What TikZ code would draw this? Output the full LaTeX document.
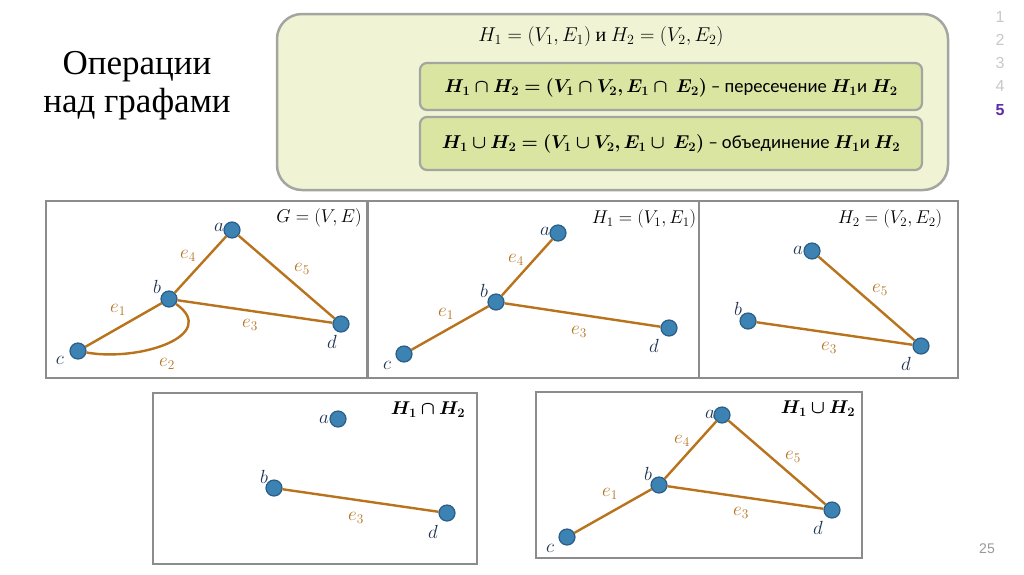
\RequirePackage{fix-cm}
\documentclass[tikz,border=0pt]{standalone}
\usepackage{amsmath,bm}
\usepackage{fontspec}
\setmainfont{Carlito}
\newfontfamily\titlefont{Liberation Serif}
\newfontfamily\numfont{Liberation Sans}
\definecolor{bigfill}{HTML}{F0F4D4}
\definecolor{innerfill}{HTML}{DAE5A2}
\definecolor{boxline}{HTML}{A3A5A0}
\definecolor{panelline}{HTML}{8C8C8C}
\definecolor{nodeblue}{HTML}{3C82B3}
\definecolor{nodeborder}{HTML}{2A5E86}
\definecolor{edgecol}{HTML}{B8731C}
\definecolor{edgelab}{HTML}{B5731E}
\definecolor{vlabcol}{HTML}{1F3552}
\definecolor{pagegray}{HTML}{C8C8C8}
\definecolor{pagepurple}{HTML}{5E2CA5}
\tikzset{
  vert/.style={circle, fill=nodeblue, draw=nodeborder, line width=1.2pt, minimum size=16pt, inner sep=0pt},
  edgeline/.style={draw=edgecol, line width=2.4pt},
  vlab/.style={text=vlabcol, inner sep=0pt, font=\fontsize{19}{21}\selectfont},
  elab/.style={text=edgelab, inner sep=0pt, font=\fontsize{19}{21}\selectfont},
  ptitle/.style={text=black, inner sep=0pt, font=\fontsize{18.5}{21}\selectfont},
  panelbox/.style={draw=panelline, line width=2pt},
  innerbox/.style={draw=boxline, fill=innerfill, line width=2.2pt, rounded corners=7pt},
  pagenum/.style={text=pagegray, inner sep=0pt, font=\numfont\fontsize{16}{18}\selectfont},
}
\begin{document}
\begin{tikzpicture}[x=1pt,y=-1pt]
\useasboundingbox (0,0) rectangle (1024,574);
\fill[white] (0,0) rectangle (1024,574);

% title
\node[align=center, inner sep=0pt, font=\titlefont\fontsize{35}{38}\selectfont] (title) at (137,86) {Операции\\над графами};

% top definition box
\draw[draw=boxline, fill=bigfill, line width=2.5pt, rounded corners=25pt] (277,14) rectangle (948,190);
\node[ptitle, font=\fontsize{20}{22}\selectfont] (deftext) at (601,36) {$H_1=(V_1,E_1)$ {\titlefont и} $H_2=(V_2,E_2)$};
\draw[innerbox] (420,63) rectangle (922,110);
\node[ptitle, font=\fontsize{18.6}{21}\selectfont] (inter) at (671,88) {$\bm{H_1\cap H_2=(V_1\cap V_2,E_1\cap\ E_2)}$ – пересечение $\bm{H_1}$и $\bm{H_2}$};
\draw[innerbox] (420,117) rectangle (922,170);
\node[ptitle, font=\fontsize{18.6}{21}\selectfont] (union) at (671,144) {$\bm{H_1\cup H_2=(V_1\cup V_2,E_1\cup\ E_2)}$ – объединение $\bm{H_1}$и $\bm{H_2}$};

% page numbers
\node[pagenum] (p1) at (1000,17) {1};
\node[pagenum] (p2) at (1000,40) {2};
\node[pagenum] (p3) at (1000,63) {3};
\node[pagenum] (p4) at (1000,86) {4};
\node[pagenum, text=pagepurple, font=\numfont\bfseries\fontsize{16}{18}\selectfont] (p5) at (1000,110) {5};
\node[pagenum, text=gray!80, font=\numfont\fontsize{14}{16}\selectfont] (pg) at (987,549) {25};

% ---------- panel G ----------
\draw[panelbox] (46,201) rectangle (367,378);
\node[ptitle] (tG) at (319,218) {$G=(V,E)$};
\node[vert] (ga) at (232,230) {};
\node[vert] (gb) at (169,299) {};
\node[vert] (gc) at (78,351) {};
\node[vert] (gd) at (341,324) {};
\draw[edgeline] (gb) -- (ga);
\draw[edgeline] (ga) -- (gd);
\draw[edgeline] (gc) -- (gb);
\draw[edgeline] (gb) -- (gd);
\draw[edgeline] (gc) .. controls (140,362) and (220,335) .. (gb);
\node[vlab] (gla) at (219,227) {$a$};
\node[vlab] (glb) at (157,287) {$b$};
\node[vlab] (glc) at (60,360) {$c$};
\node[vlab] (gld) at (332,342) {$d$};
\node[elab] (ge4) at (188,256) {$e_4$};
\node[elab] (ge5) at (302,269) {$e_5$};
\node[elab] (ge1) at (118,310) {$e_1$};
\node[elab] (ge3) at (250,325) {$e_3$};
\node[elab] (ge2) at (167,364) {$e_2$};

% ---------- panel H1 ----------
\draw[panelbox] (368,201) rectangle (699,378);
\node[ptitle] (tH1) at (644,219) {$H_1=(V_1,E_1)$};
\node[vert] (ha) at (558,233) {};
\node[vert] (hb) at (496,302) {};
\node[vert] (hc) at (404,354) {};
\node[vert] (hd) at (669,328) {};
\draw[edgeline] (hb) -- (ha);
\draw[edgeline] (hc) -- (hb);
\draw[edgeline] (hb) -- (hd);
\node[vlab] (hla) at (545,231) {$a$};
\node[vlab] (hlb) at (484,291) {$b$};
\node[vlab] (hlc) at (387,365) {$c$};
\node[vlab] (hld) at (654,346) {$d$};
\node[elab] (he4) at (516,260) {$e_4$};
\node[elab] (he1) at (446,314) {$e_1$};
\node[elab] (he3) at (579,332) {$e_3$};

% ---------- panel H2 ----------
\draw[panelbox] (699,201) rectangle (958,378);
\node[ptitle] (tH2) at (890,219) {$H_2=(V_2,E_2)$};
\node[vert] (ka) at (812,251) {};
\node[vert] (kb) at (748,321) {};
\node[vert] (kd) at (921,346) {};
\draw[edgeline] (ka) -- (kd);
\draw[edgeline] (kb) -- (kd);
\node[vlab] (kla) at (798,250) {$a$};
\node[vlab] (klb) at (738,309) {$b$};
\node[vlab] (kld) at (906,364) {$d$};
\node[elab] (ke5) at (880,290) {$e_5$};
\node[elab] (ke3) at (829,348) {$e_3$};

% ---------- panel H1 cap H2 ----------
\draw[panelbox] (153,393) rectangle (477,564);
\node[ptitle] (tI) at (428,410) {$\bm{H_1\cap H_2}$};
\node[vert] (ia) at (338,419) {};
\node[vert] (ib) at (274,488) {};
\node[vert] (id) at (447,513) {};
\draw[edgeline] (ib) -- (id);
\node[vlab] (ila) at (324,419) {$a$};
\node[vlab] (ilb) at (264,477) {$b$};
\node[vlab] (ild) at (433,532) {$d$};
\node[elab] (ie3) at (356,518) {$e_3$};

% ---------- panel H1 cup H2 ----------
\draw[panelbox] (536,392) rectangle (862,558);
\node[ptitle] (tU) at (818,409) {$\bm{H_1\cup H_2}$};
\node[vert] (ua) at (722,415) {};
\node[vert] (ub) at (659,485) {};
\node[vert] (uc) at (567,537) {};
\node[vert] (ud) at (832,510) {};
\draw[edgeline] (ub) -- (ua);
\draw[edgeline] (ua) -- (ud);
\draw[edgeline] (uc) -- (ub);
\draw[edgeline] (ub) -- (ud);
\node[vlab] (ula) at (710,414) {$a$};
\node[vlab] (ulb) at (648,474) {$b$};
\node[vlab] (ulc) at (550,548) {$c$};
\node[vlab] (uld) at (818,528) {$d$};
\node[elab] (ue4) at (682,441) {$e_4$};
\node[elab] (ue5) at (793,457) {$e_5$};
\node[elab] (ue1) at (610,494) {$e_1$};
\node[elab] (ue3) at (741,513) {$e_3$};
\end{tikzpicture}
\end{document}
